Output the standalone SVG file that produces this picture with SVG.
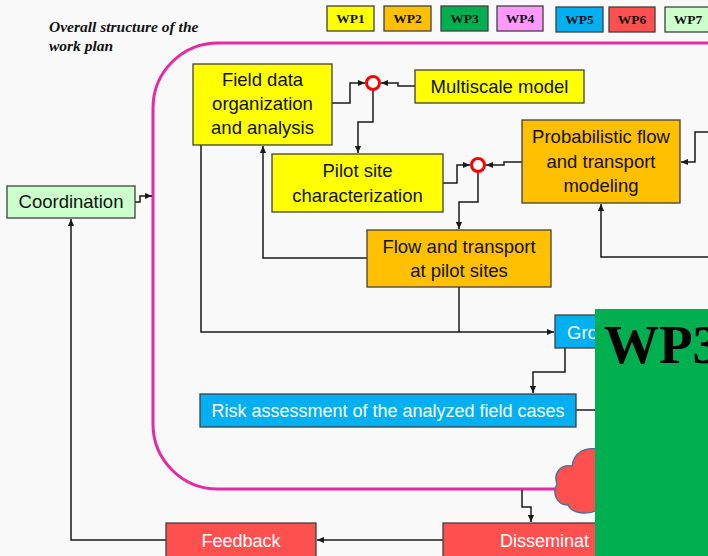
<svg xmlns="http://www.w3.org/2000/svg" width="708" height="556" viewBox="0 0 708 556">
<defs>
<style>
.bx{stroke:#404040;stroke-width:1.3}
.lb{font-family:"Liberation Sans",Arial,sans-serif;font-size:18.5px;fill:#111;text-anchor:middle}
.wl{fill:#fff}
.lg{font-family:"Liberation Serif","Times New Roman",serif;font-size:13.5px;font-weight:bold;fill:#111;text-anchor:middle}
.cn{fill:none;stroke:#1a1a1a;stroke-width:1.5}
.jn{fill:#fff;stroke:#ff0000;stroke-width:3}
</style>
<marker id="ar" viewBox="0 0 8 8" refX="8" refY="4" markerWidth="7" markerHeight="7" markerUnits="userSpaceOnUse" orient="auto">
<path d="M0 0.5 L8 4 L0 7.5 Z" fill="#1a1a1a"/>
</marker>
</defs>
<rect x="0" y="0" width="708" height="556" fill="#f9f9f9"/>
<g id="title">
<text font-family="'Liberation Serif','Times New Roman',serif" font-size="15.5" font-weight="bold" font-style="italic" fill="#111"><tspan x="49" y="32">Overall structure of the</tspan><tspan x="49" y="51">work plan</tspan></text>
</g>
<g id="legend">
<rect class="bx" x="327" y="6" width="47" height="25" fill="#ffff00"/><text class="lg" x="350.5" y="23">WP1</text>
<rect class="bx" x="384" y="6" width="47" height="25" fill="#ffc000"/><text class="lg" x="407.5" y="23">WP2</text>
<rect class="bx" x="441" y="6" width="47" height="25" fill="#00b050"/><text class="lg" x="464.5" y="23">WP3</text>
<rect class="bx" x="497" y="6" width="46" height="25" fill="#ff99ff"/><text class="lg" x="520" y="23">WP4</text>
<rect class="bx" x="556" y="7" width="47" height="25" fill="#00b0f0"/><text class="lg" x="579.5" y="24">WP5</text>
<rect class="bx" x="609" y="7" width="46" height="25" fill="#ff5050"/><text class="lg" x="632" y="24">WP6</text>
<rect class="bx" x="665" y="7" width="50" height="25" fill="#ccffcc"/><text class="lg" x="688" y="24">WP7</text>
</g>
<g id="frame">
<rect x="153" y="43" width="700" height="446" rx="65" ry="65" fill="none" stroke="#e52aa6" stroke-width="3"/>
</g>
<g id="connectors">
<path class="cn" d="M135 202 H140 V196 H152" marker-end="url(#ar)"/>
<path class="cn" d="M332 103 H350 V83 H365" marker-end="url(#ar)"/>
<path class="cn" d="M415 86 H398 V83 H381" marker-end="url(#ar)"/>
<path class="cn" d="M373 90 V122 H358 V153" marker-end="url(#ar)"/>
<path class="cn" d="M443 183 H457 V165 H470" marker-end="url(#ar)"/>
<path class="cn" d="M522 162 H504 V165 H486" marker-end="url(#ar)"/>
<path class="cn" d="M478 172 V202 H459 V229" marker-end="url(#ar)"/>
<path class="cn" d="M367 258 H263 V146" marker-end="url(#ar)"/>
<path class="cn" d="M201 145 V332 H554" marker-end="url(#ar)"/>
<path class="cn" d="M459 287 V332"/>
<path class="cn" d="M565 348 V372 H533 V393" marker-end="url(#ar)"/>
<path class="cn" d="M576 410 H596"/>
<path class="cn" d="M710 132 H695 V162 H681" marker-end="url(#ar)"/>
<path class="cn" d="M710 257 H601 V204" marker-end="url(#ar)"/>
<path class="cn" d="M522 490 V507 H531 V522" marker-end="url(#ar)"/>
<path class="cn" d="M443 540 H317" marker-end="url(#ar)"/>
<path class="cn" d="M166 540 H71 V219" marker-end="url(#ar)"/>
</g>
<g id="junction1"><circle class="jn" cx="373" cy="83" r="6.5"/></g>
<g id="junction2"><circle class="jn" cx="478" cy="165" r="6.5"/></g>
<g id="field-data">
<rect class="bx" x="193" y="64" width="139" height="81" fill="#ffff00"/>
<text class="lb"><tspan x="262.5" y="86">Field data</tspan><tspan x="262.5" y="110">organization</tspan><tspan x="262.5" y="134">and analysis</tspan></text>
</g>
<g id="multiscale">
<rect class="bx" x="415" y="70" width="169" height="33" fill="#ffff00"/>
<text class="lb" x="499.5" y="93">Multiscale model</text>
</g>
<g id="pilot-site">
<rect class="bx" x="272" y="154" width="171" height="58" fill="#ffff00"/>
<text class="lb"><tspan x="357.5" y="177">Pilot site</tspan><tspan x="357.5" y="202">characterization</tspan></text>
</g>
<g id="probabilistic">
<rect class="bx" x="522" y="120" width="158" height="83" fill="#ffc000"/>
<text class="lb"><tspan x="601" y="143">Probabilistic flow</tspan><tspan x="601" y="168">and transport</tspan><tspan x="601" y="192">modeling</tspan></text>
</g>
<g id="flow-transport">
<rect class="bx" x="367" y="230" width="184" height="57" fill="#ffc000"/>
<text class="lb"><tspan x="459" y="253">Flow and transport</tspan><tspan x="459" y="277">at pilot sites</tspan></text>
</g>
<g id="coordination">
<rect class="bx" x="7" y="186" width="128" height="32" fill="#ccffcc"/>
<text class="lb" x="71" y="208">Coordination</text>
</g>
<g id="groundwater">
<rect class="bx" x="555" y="315" width="60" height="33" fill="#00b0f0"/>
<text class="lb wl" x="567" y="339" style="text-anchor:start">Gro</text>
</g>
<g id="risk">
<rect class="bx" x="200" y="394" width="376" height="33" fill="#00b0f0"/>
<text class="lb wl" x="388" y="417" style="font-size:18px">Risk assessment of the analyzed field cases</text>
</g>
<g id="feedback">
<rect class="bx" x="166" y="523" width="150" height="40" fill="#ff5050"/>
<text class="lb wl" x="241" y="547" style="font-size:18px">Feedback</text>
</g>
<g id="dissemination">
<rect class="bx" x="443" y="523" width="170" height="40" fill="#ff5050"/>
<text class="lb wl" x="500" y="547" style="font-size:18px;text-anchor:start">Disseminat</text>
</g>
<g id="cloud">
<path d="M598 449 C585 447 574 452 572 466 C560 464 553 474 557 484 C552 492 556 505 568 505 C572 514 588 515 598 510 Z" fill="#ff5050" stroke="#41719c" stroke-width="1.3"/>
</g>
<g id="wp3-panel">
<rect x="595" y="309" width="113" height="247" fill="#00b050"/>
<text x="604" y="363" font-family="'Liberation Serif','Times New Roman',serif" font-size="55" font-weight="bold" fill="#000">WP3</text>
</g>
</svg>
